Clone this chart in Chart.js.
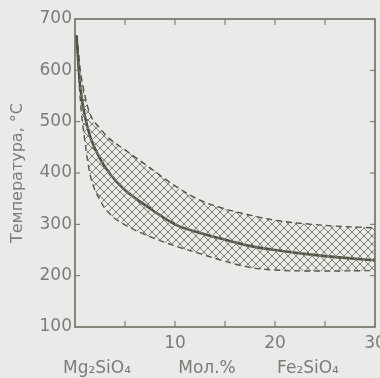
<!DOCTYPE html>
<html>
<head>
<meta charset="utf-8">
<script src="https://cdn.jsdelivr.net/npm/chart.js@4/dist/chart.umd.min.js"></script>
<style>
  html, body { margin: 0; padding: 0; background: #eaeae8; }
  #wrap { width: 380px; height: 378px; position: relative; }
</style>
</head>
<body>
<div id="wrap"><canvas id="chart" width="380" height="378"></canvas></div>
<script>
// composition, mol.% Fe2SiO4
const molPct = [0.15, 0.3, 0.5, 1, 1.5, 2.5, 3.5, 5, 7.5, 10, 12.5, 15, 17.5, 20, 25, 30];
// temperature, °C
const tempMain  = [668, 625, 572, 510, 472, 428, 398, 367, 331, 300, 283, 270, 258, 250, 238, 230];
const tempUpper = [668, 645, 605, 550, 515, 487, 466, 445, 410, 375, 347, 330, 318, 308, 298, 293];
const tempLower = [668, 618, 550, 460, 398, 347, 320, 299, 276, 258, 243, 228, 216, 211, 209, 210];

const yTitle = 'Температура, °С';
const xNames = ['Mg₂SiO₄', 'Мол.%', 'Fe₂SiO₄'];
const xNamePos = [2.2, 13.2, 23.3]; // where the names sit along the x axis

const ink = '#4e5346';
const frame = '#6c7062';
const textCol = '#7c7d78';

function toPoints(ys) {
  return molPct.map((x, i) => ({ x: x, y: ys[i] }));
}

// cross-hatch fill
function makeHatch() {
  const c = document.createElement('canvas');
  c.width = 8; c.height = 8;
  const g = c.getContext('2d');
  g.strokeStyle = '#7a7f6f';
  g.lineWidth = 1;
  g.beginPath();
  g.moveTo(0, 0); g.lineTo(8, 8);
  g.moveTo(8, 0); g.lineTo(0, 8);
  g.stroke();
  return g.createPattern(c, 'repeat');
}

// frame plus inward ticks on all four sides, and the names under the x axis
const framePlugin = {
  id: 'framePlugin',
  afterDraw(chart) {
    const { ctx, chartArea: a, scales } = chart;
    ctx.save();
    ctx.strokeStyle = frame;
    ctx.lineWidth = 1.6;
    ctx.strokeRect(a.left, a.top, a.right - a.left, a.bottom - a.top);
    ctx.lineWidth = 1;
    ctx.beginPath();
    scales.x.ticks.forEach(t => {
      if (t.value <= 0 || t.value >= 30) return;
      const px = scales.x.getPixelForValue(t.value);
      ctx.moveTo(px, a.bottom); ctx.lineTo(px, a.bottom - 6);
      ctx.moveTo(px, a.top); ctx.lineTo(px, a.top + 6);
    });
    scales.y.ticks.forEach(t => {
      if (t.value <= 100 || t.value >= 700) return;
      const py = scales.y.getPixelForValue(t.value);
      ctx.moveTo(a.left, py); ctx.lineTo(a.left + 5, py);
      ctx.moveTo(a.right, py); ctx.lineTo(a.right - 5, py);
    });
    ctx.stroke();

    ctx.fillStyle = textCol;
    ctx.font = '17px "DejaVu Sans"';
    ctx.textAlign = 'center';
    ctx.textBaseline = 'middle';
    xNames.forEach((n, i) => {
      ctx.fillText(n, scales.x.getPixelForValue(xNamePos[i]), 369);
    });
    ctx.restore();
  }
};

new Chart(document.getElementById('chart'), {
  type: 'line',
  data: {
    datasets: [
      {
        data: toPoints(tempUpper),
        borderColor: ink,
        borderWidth: 1.4,
        borderDash: [6, 4],
        backgroundColor: makeHatch(),
        fill: '+1',
        pointRadius: 0,
        cubicInterpolationMode: 'monotone'
      },
      {
        data: toPoints(tempLower),
        borderColor: ink,
        borderWidth: 1.4,
        borderDash: [6, 4],
        fill: false,
        pointRadius: 0,
        cubicInterpolationMode: 'monotone'
      },
      {
        data: toPoints(tempMain),
        borderColor: ink,
        borderWidth: 2.6,
        fill: false,
        pointRadius: 0,
        cubicInterpolationMode: 'monotone'
      }
    ]
  },
  options: {
    responsive: false,
    animation: false,
    layout: { padding: { top: 19, right: 5, left: 0, bottom: 0 } },
    plugins: { legend: { display: false }, tooltip: { enabled: false } },
    scales: {
      x: {
        type: 'linear',
        min: 0,
        max: 30,
        border: { display: false },
        grid: { display: false, drawTicks: false },
        ticks: {
          stepSize: 5,
          padding: 6,
          maxRotation: 0,
          color: textCol,
          font: { family: 'DejaVu Sans', size: 17 },
          callback: v => (v > 0 && v % 10 === 0 ? v : '')
        },
        afterFit(s) { s.height = 51; s.paddingRight = 0; s.paddingLeft = 0; }
      },
      y: {
        min: 100,
        max: 700,
        border: { display: false },
        grid: { display: false, drawTicks: false },
        ticks: {
          stepSize: 100,
          padding: 3,
          color: textCol,
          font: { family: 'DejaVu Sans', size: 17 }
        },
        title: {
          display: true,
          text: yTitle,
          color: textCol,
          padding: { top: 8, bottom: 0 },
          font: { family: 'DejaVu Sans', size: 16 }
        },
        afterFit(s) { s.width = 75; s.paddingTop = 0; s.paddingBottom = 0; }
      }
    }
  },
  plugins: [framePlugin]
});
</script>
</body>
</html>
